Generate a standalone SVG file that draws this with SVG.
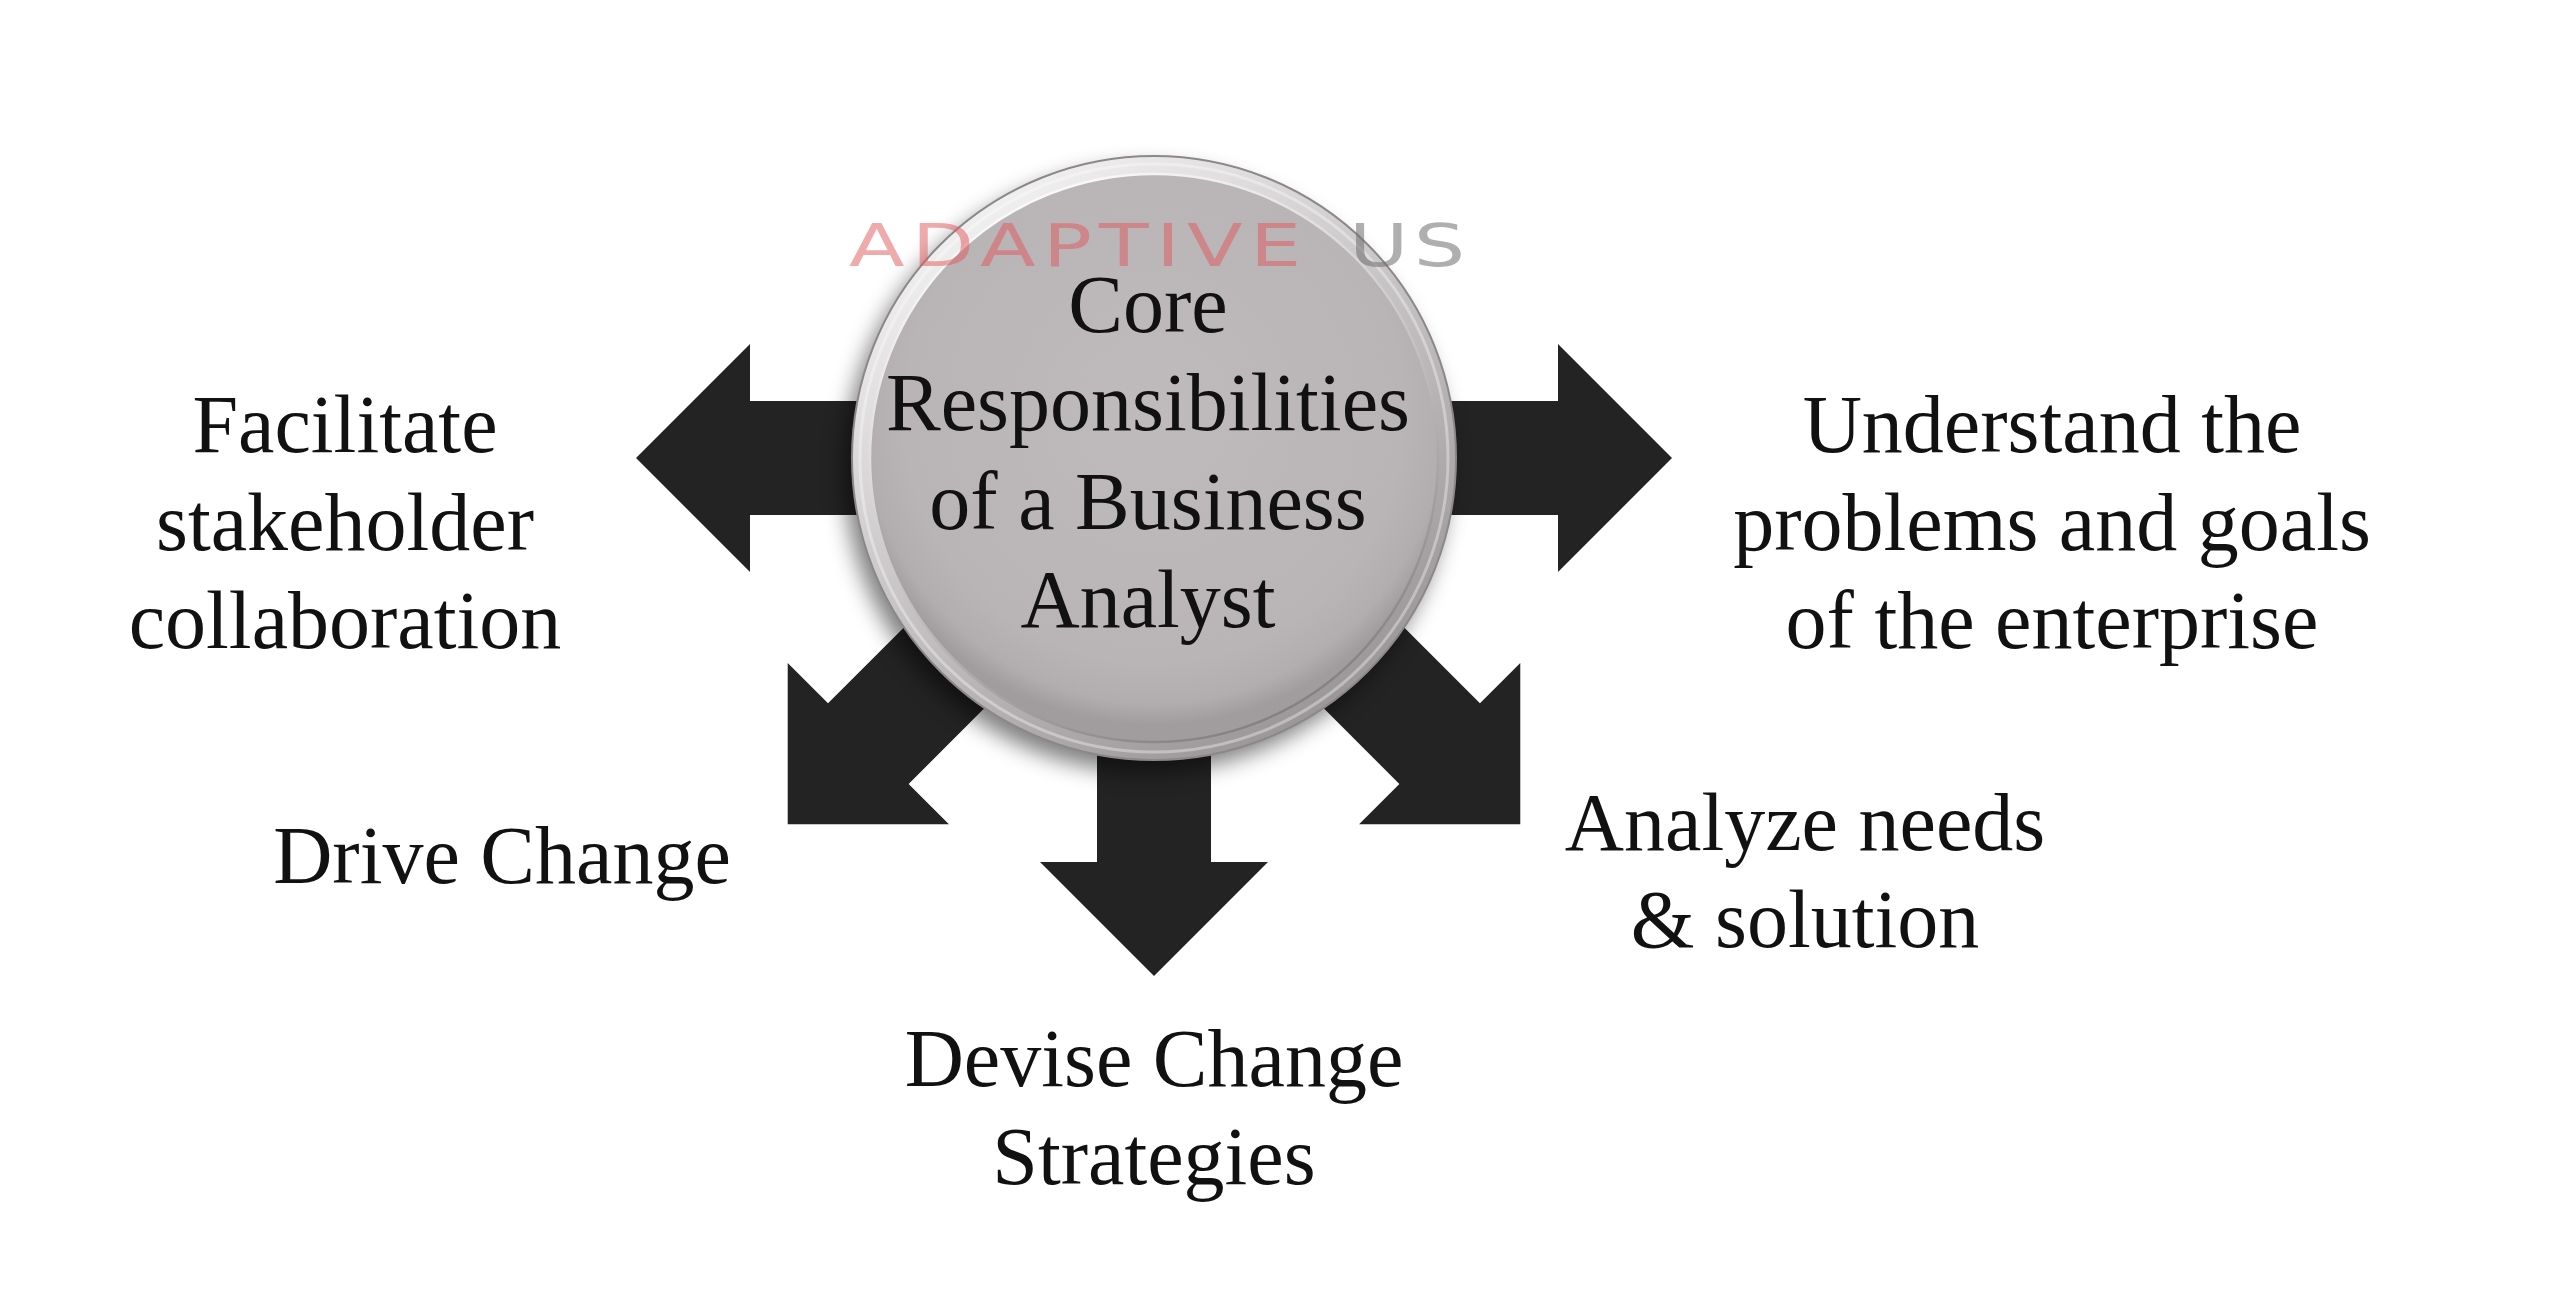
<svg xmlns="http://www.w3.org/2000/svg" width="2560" height="1290" viewBox="0 0 2560 1290">
  <defs>
    <style>
      .lbl { font-family: "Liberation Serif", "Times New Roman", serif; font-size: 82px; fill: #111111; text-anchor: middle; }
      .arrow { fill: #232323; }
      .wm { font-family: "DejaVu Sans", "Liberation Sans", sans-serif; font-size: 58px; }
    </style>
    <path id="arrowShape" d="M0,-57 L404,-57 L404,-114 L518,0 L404,114 L404,57 L0,57 Z"/>
    <filter id="shadowBlur" x="-20%" y="-20%" width="140%" height="140%">
      <feGaussianBlur stdDeviation="11"/>
    </filter>
    <linearGradient id="ringGrad" x1="0.2" y1="0.05" x2="0.8" y2="0.95">
      <stop offset="0" stop-color="#f4f3f3"/>
      <stop offset="0.35" stop-color="#d2cfd0"/>
      <stop offset="0.7" stop-color="#b3afb1"/>
      <stop offset="1" stop-color="#989496"/>
    </linearGradient>
    <radialGradient id="discGrad" cx="0.5" cy="0.42" r="0.55">
      <stop offset="0" stop-color="#bfbbbd"/>
      <stop offset="0.8" stop-color="#b9b4b6"/>
      <stop offset="0.93" stop-color="#b2adaf"/>
      <stop offset="1" stop-color="#a19c9e"/>
    </radialGradient>
    <linearGradient id="innerEdge" x1="0.25" y1="0" x2="0.75" y2="1">
      <stop offset="0" stop-color="#ffffff"/>
      <stop offset="0.5" stop-color="#c9c5c7"/>
      <stop offset="1" stop-color="#7e7a7c"/>
    </linearGradient>
  </defs>

  <rect x="0" y="0" width="2560" height="1290" fill="#ffffff"/>

  <g id="connectors">
    <use href="#arrowShape" class="arrow" transform="translate(1154,458) rotate(180)"/>
    <use href="#arrowShape" class="arrow" transform="translate(1154,458)"/>
    <use href="#arrowShape" class="arrow" transform="translate(1154,458) rotate(45)"/>
    <use href="#arrowShape" class="arrow" transform="translate(1154,458) rotate(90)"/>
    <use href="#arrowShape" class="arrow" transform="translate(1154,458) rotate(135)"/>
  </g>

  <g id="node-center">
    <circle cx="1146" cy="470" r="302" fill="#000000" opacity="0.5" filter="url(#shadowBlur)"/>
    <circle cx="1154" cy="458" r="302" fill="url(#ringGrad)" stroke="#8c888a" stroke-width="2"/>
    <circle cx="1154" cy="458" r="294" fill="none" stroke="#ffffff" stroke-opacity="0.35" stroke-width="3"/>
    <circle cx="1154" cy="458" r="284" fill="url(#discGrad)" stroke="url(#innerEdge)" stroke-width="2.5"/>
    <text class="lbl" x="1148" y="332">Core</text>
    <text class="lbl" x="1148" y="430">Responsibilities</text>
    <text class="lbl" x="1148" y="529">of a Business</text>
    <text class="lbl" x="1148" y="627">Analyst</text>
  </g>

  <g id="watermark">
    <text class="wm" transform="translate(849,266) scale(1.4,1)" x="0" y="0" textLength="323" fill="#e0555a" fill-opacity="0.5">ADAPTIVE</text>
    <text class="wm" transform="translate(1349,266) scale(1.4,1)" x="0" y="0" textLength="83" fill="#6e6e6e" fill-opacity="0.55">US</text>
  </g>

  <g id="node-facilitate">
    <text class="lbl" x="345" y="452">Facilitate</text>
    <text class="lbl" x="345" y="550">stakeholder</text>
    <text class="lbl" x="345" y="648">collaboration</text>
  </g>

  <g id="node-understand">
    <text class="lbl" x="2052" y="452">Understand the</text>
    <text class="lbl" x="2052" y="550">problems and goals</text>
    <text class="lbl" x="2052" y="648">of the enterprise</text>
  </g>

  <g id="node-drive">
    <text class="lbl" x="502" y="883">Drive Change</text>
  </g>

  <g id="node-analyze">
    <text class="lbl" x="1805" y="850">Analyze needs</text>
    <text class="lbl" x="1805" y="947">&amp; solution</text>
  </g>

  <g id="node-devise">
    <text class="lbl" x="1154" y="1086">Devise Change</text>
    <text class="lbl" x="1154" y="1184">Strategies</text>
  </g>
</svg>
